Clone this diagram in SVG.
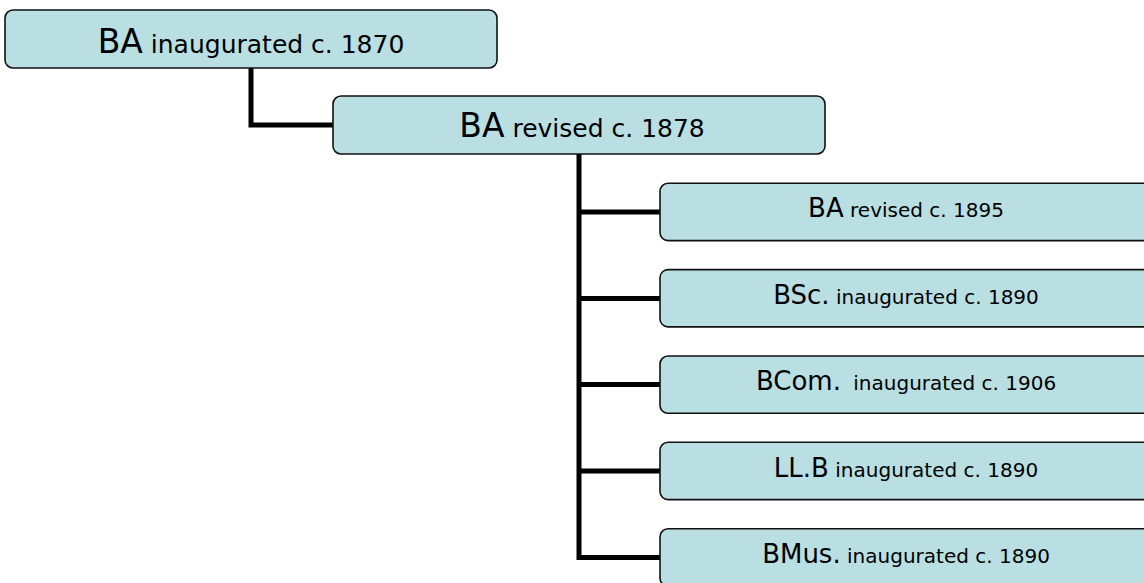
<svg xmlns="http://www.w3.org/2000/svg" width="1144" height="583" viewBox="0 0 1144 583">
<style>
.box{fill:#b9dfe2;stroke:#111;stroke-width:1.6}
.conn{fill:none;stroke:#000;stroke-width:5;stroke-linejoin:miter;stroke-linecap:butt}
text{font-family:"DejaVu Sans","Liberation Sans",sans-serif;fill:#000;text-anchor:middle}
.b1{font-size:33px}.s1{font-size:25px}
.b2{font-size:26px}.s2{font-size:20px}
</style>
<rect width="1144" height="583" fill="#fff"/>
<g id="connectors">
<path class="conn" d="M251 68 V125 H333"/>
<path class="conn" d="M579 154 V557.5 H660"/>
<path class="conn" d="M579 212 H660"/>
<path class="conn" d="M579 298.5 H660"/>
<path class="conn" d="M579 384.5 H660"/>
<path class="conn" d="M579 471 H660"/>
</g>
<g id="ba1870">
<rect class="box" x="5" y="10" width="492" height="58" rx="8"/>
<text x="251" y="53"><tspan class="b1">BA</tspan><tspan class="s1"> inaugurated c. 1870</tspan></text>
</g>
<g id="ba1878">
<rect class="box" x="333" y="96" width="492" height="58" rx="8"/>
<text x="582" y="137"><tspan class="b1">BA</tspan><tspan class="s1"> revised c. 1878</tspan></text>
</g>
<g id="ba1895">
<rect class="box" x="660" y="183.3" width="500" height="57.3" rx="8"/>
<text x="906" y="217"><tspan class="b2">BA</tspan><tspan class="s2"> revised c. 1895</tspan></text>
</g>
<g id="bsc1890">
<rect class="box" x="660" y="269.6" width="500" height="57.3" rx="8"/>
<text x="906" y="303.5"><tspan class="b2">BSc.</tspan><tspan class="s2"> inaugurated c. 1890</tspan></text>
</g>
<g id="bcom1906">
<rect class="box" x="660" y="356" width="500" height="57.3" rx="8"/>
<text x="906" y="390"><tspan class="b2">BCom.</tspan><tspan class="s2" dx="6"> inaugurated c. 1906</tspan></text>
</g>
<g id="llb1890">
<rect class="box" x="660" y="442.3" width="500" height="57.3" rx="8"/>
<text x="906" y="476.5"><tspan class="b2">LL.B</tspan><tspan class="s2"> inaugurated c. 1890</tspan></text>
</g>
<g id="bmus1890">
<rect class="box" x="660" y="528.8" width="500" height="57.3" rx="8"/>
<text x="906" y="563"><tspan class="b2">BMus.</tspan><tspan class="s2"> inaugurated c. 1890</tspan></text>
</g>
</svg>
